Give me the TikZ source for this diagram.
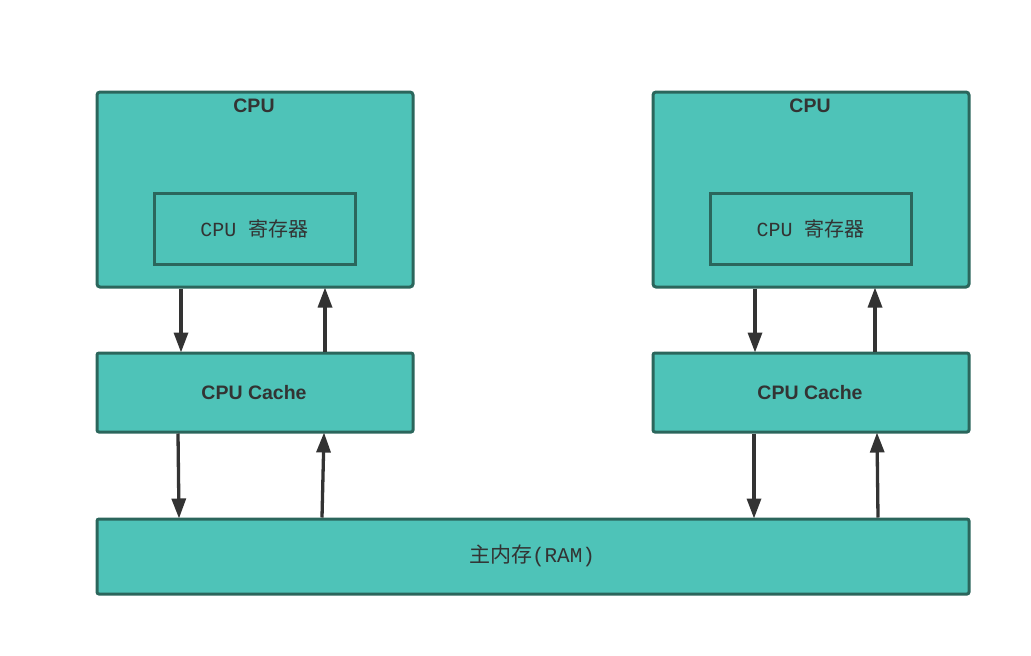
\documentclass[tikz,border=0pt]{standalone}
\usepackage{fontspec}
\setmainfont{Liberation Sans}
\newfontfamily\cjk{Noto Sans CJK SC}
\newfontfamily\monof{Liberation Mono}
\usetikzlibrary{arrows.meta,calc}
\definecolor{boxfill}{HTML}{4EC3B8}
\definecolor{boxline}{HTML}{2B665C}
\definecolor{arrcol}{HTML}{333333}
\tikzset{
  box/.style={draw=boxline, fill=boxfill, line width=3pt, rounded corners=3pt, inner sep=0pt},
  inbox/.style={draw=boxline, fill=boxfill, line width=3pt, inner sep=0pt},
  title/.style={text=arrcol, font=\fontsize{19.5}{22}\selectfont\bfseries},
  cjklabel/.style={text=arrcol, font=\fontsize{20}{24}\selectfont},
  arr/.style={draw=arrcol, line width=3.3pt, -{Triangle[length=20pt,width=14pt]}, shorten >=-1pt},
}
\begin{document}
\begin{tikzpicture}[x=1pt,y=-1pt]
\useasboundingbox (0,0) rectangle (1031,656);
% CPU boxes
\node[box, minimum width=316pt, minimum height=195pt] (cpuL) at (255,189.5) {};
\node[box, minimum width=316pt, minimum height=195pt] (cpuR) at (811,189.5) {};
\node[title, anchor=center] (cpuLt) at (254,106) {CPU};
\node[title, anchor=center] (cpuRt) at (810,106) {CPU};
% registers
\node[inbox, minimum width=201pt, minimum height=71pt] (regL) at (254.5,228.5) {};
\node[cjklabel] (regLt) at (254.5,229) {{\monof CPU}\hspace{12pt}{\cjk 寄存器}};
\node[inbox, minimum width=201pt, minimum height=71pt] (regR) at (810.5,228.5) {};
\node[cjklabel] (regRt) at (810.5,229) {{\monof CPU}\hspace{12pt}{\cjk 寄存器}};
% caches
\node[box, rounded corners=2pt, minimum width=316pt, minimum height=79pt] (cacheL) at (255,392.5) {};
\node[title] (cacheLt) at (254,393) {CPU Cache};
\node[box, rounded corners=2pt, minimum width=316pt, minimum height=79pt] (cacheR) at (811,392.5) {};
\node[title] (cacheRt) at (810,393) {CPU Cache};
% RAM
\node[box, rounded corners=2pt, minimum width=872pt, minimum height=75pt] (ram) at (533,556.5) {};
\node[cjklabel, font=\fontsize{21}{24}\selectfont] (ramt) at (532,556) {{\cjk 主内存}{\monof (RAM)}};
% arrows CPU <-> cache
\draw[arr] ($(cpuL.south west)+(85.5,0)$) -- ($(cacheL.north west)+(85.5,0)$);
\draw[arr] ($(cacheL.north west)+(229.5,0)$) -- ($(cpuL.south west)+(229.5,0)$);
\draw[arr] ($(cpuR.south west)+(103.5,0)$) -- ($(cacheR.north west)+(103.5,0)$);
\draw[arr] ($(cacheR.north west)+(223.5,0)$) -- ($(cpuR.south west)+(223.5,0)$);
% arrows cache <-> RAM
\draw[arr] ($(cacheL.south west)+(82.5,0)$) -- ($(ram.north west)+(83.5,0)$);
\draw[arr] ($(ram.north west)+(226.5,0)$) -- ($(cacheL.south west)+(228.5,0)$);
\draw[arr] ($(cacheR.south west)+(102.5,0)$) -- ($(ram.north west)+(658.5,0)$);
\draw[arr] ($(ram.north west)+(782.5,0)$) -- ($(cacheR.south west)+(225.5,0)$);
\end{tikzpicture}
\end{document}
